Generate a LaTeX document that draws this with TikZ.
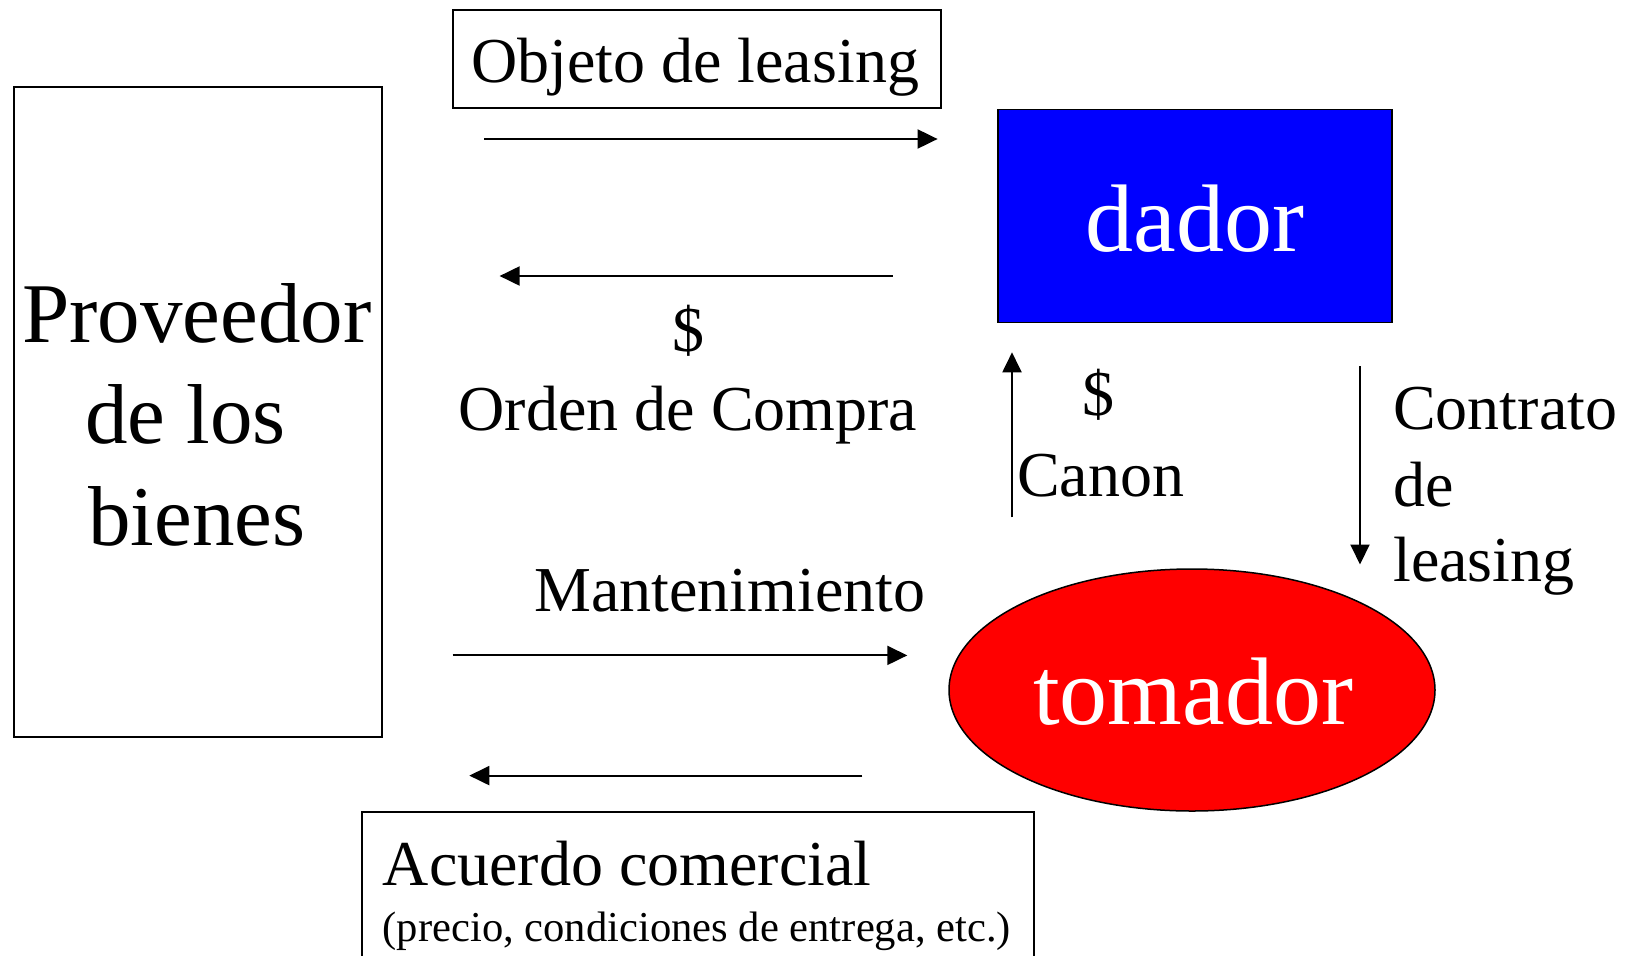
\documentclass[tikz,border=0pt]{standalone}
\usepackage{fontspec}
\setmainfont{Liberation Serif}
\usetikzlibrary{arrows.meta,shapes.geometric}
\begin{document}
\begin{tikzpicture}[x=1pt,y=-1pt,
  txt/.style={inner sep=0pt, font=\fontsize{64}{70}\selectfont},
  small/.style={inner sep=0pt, font=\fontsize{42.6}{48}\selectfont},
  big/.style={inner sep=0pt, font=\fontsize{85}{90}\selectfont},
  huge/.style={inner sep=0pt, text=white, font=\fontsize{96}{100}\selectfont},
  arr/.style={line width=2pt, -{Triangle[length=20pt,width=19pt]}},
  box/.style={draw, line width=2pt, inner sep=0pt, anchor=north west}]
\useasboundingbox (0,0) rectangle (1639,956);
% boxes
\node[box, minimum width=368pt, minimum height=650pt] (prov) at (12.5,85.7) {};
\node[box, minimum width=488pt, minimum height=98pt] (objbox) at (451.6,9.4) {};
\node[box, fill={rgb,255:red,0;green,0;blue,255}, line width=1.5pt, minimum width=394pt, minimum height=213pt] (dador) at (997,108.7) {};
\node[draw, ellipse, fill={rgb,255:red,255;green,0;blue,0}, line width=1.5pt, inner sep=0pt, minimum width=486pt, minimum height=242pt] (tomador) at (1192,690) {};
\node[box, minimum width=672pt, minimum height=170pt] (acbox) at (360.6,811) {};
% texts
\node[txt, anchor=base] (tobj) at (695,82) {Objeto de leasing};
\node[big, anchor=base] (tp1) at (197,342) {Proveedor};
\node[big, anchor=base] (tp2) at (185.5,443) {de los};
\node[big, anchor=base] (tp3) at (197,545) {bienes};
\node[huge, anchor=base] (tdador) at (1195,251) {dador};
\node[huge, anchor=base] (ttom) at (1193,724) {tomador};
\node[txt, anchor=base] (tdol1) at (688,351) {\$};
\node[txt, anchor=base] (torden) at (688,430) {Orden de Compra};
\node[txt, anchor=base] (tdol2) at (1098.6,415) {\$};
\node[txt, anchor=base west] (tcanon) at (1017,496.5) {Canon};
\node[txt, anchor=base west] (tc1) at (1393,429.6) {Contrato};
\node[txt, anchor=base west] (tc2) at (1393,506) {de};
\node[txt, anchor=base west] (tc3) at (1393,581) {leasing};
\node[txt, anchor=base west] (tmant) at (534,611.5) {Mantenimiento};
\node[txt, anchor=base west] (tacu) at (382.6,885) {Acuerdo comercial};
\node[small, anchor=base west] (tprec) at (382.6,941.5) {(precio, condiciones de entrega, etc.)};
% arrows
\coordinate (a1s) at (484,139);   \coordinate (a1e) at (937.6,139);
\coordinate (a2s) at (892.7,276); \coordinate (a2e) at (499.6,276);
\coordinate (a3s) at (1012,517.4);\coordinate (a3e) at (1012,352.3);
\coordinate (a4s) at (1360,366);  \coordinate (a4e) at (1360,564.5);
\coordinate (a5s) at (452.6,655.4);\coordinate (a5e) at (907.3,655.4);
\coordinate (a6s) at (862.4,775.6);\coordinate (a6e) at (469.3,775.6);
\draw[arr] (a1s) -- (a1e);
\draw[arr] (a2s) -- (a2e);
\draw[arr] (a3s) -- (a3e);
\draw[arr] (a4s) -- (a4e);
\draw[arr] (a5s) -- (a5e);
\draw[arr] (a6s) -- (a6e);
\end{tikzpicture}
\end{document}
